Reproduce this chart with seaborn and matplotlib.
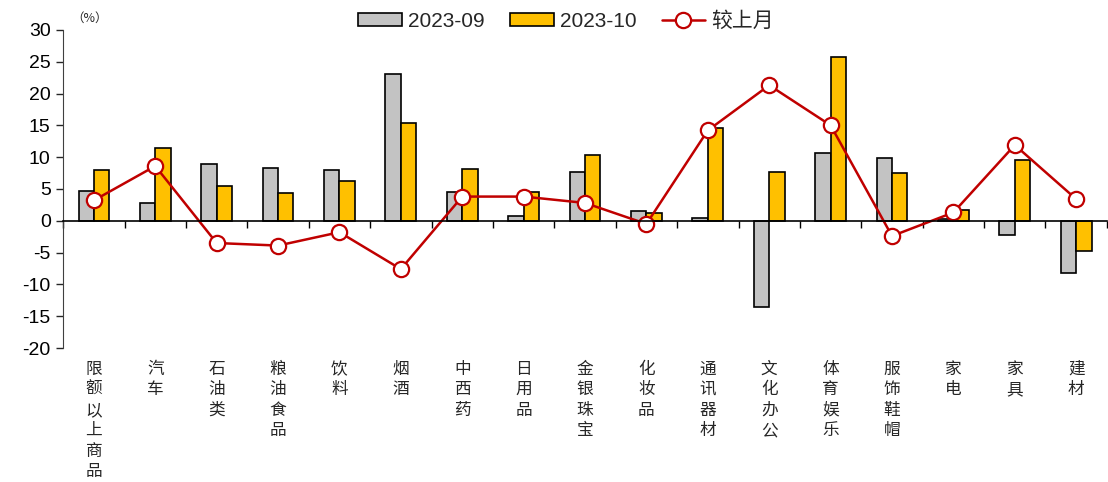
import numpy as np
import pandas as pd
import matplotlib
matplotlib.use('Agg')
import matplotlib.pyplot as plt
import matplotlib.transforms as mtransforms
import seaborn as sns

# 数据
categories = ['限额以上商品', '汽车', '石油类', '粮油食品', '饮料', '烟酒', '中西药', '日用品',
              '金银珠宝', '化妆品', '通讯器材', '文化办公', '体育娱乐', '服饰鞋帽', '家电', '家具', '建材']
sep_values = [4.7, 2.8, 8.9, 8.3, 8.0, 23.1, 4.5, 0.7, 7.7, 1.6, 0.5, -13.6, 10.7, 9.9, 0.3, -2.3, -8.2]
oct_values = [7.9, 11.4, 5.4, 4.4, 6.2, 15.4, 8.2, 4.5, 10.4, 1.2, 14.6, 7.7, 25.7, 7.5, 1.7, 9.6, -4.8]
mom_change = [3.2, 8.6, -3.5, -3.9, -1.8, -7.6, 3.8, 3.8, 2.8, -0.5, 14.2, 21.3, 15.0, -2.4, 1.3, 11.9, 3.4]
y_ticks = [-20, -15, -10, -5, 0, 5, 10, 15, 20, 25, 30]

sns.set_style('white')
plt.rcParams['font.family'] = ['Liberation Sans', 'Noto Sans CJK SC', 'DejaVu Sans']
plt.rcParams['axes.unicode_minus'] = False

df = pd.DataFrame({
    'cat': categories * 2,
    'val': sep_values + oct_values,
    'period': ['2023-09'] * len(categories) + ['2023-10'] * len(categories),
})

fig = plt.figure(figsize=(11.08, 4.82), dpi=100)
ax = fig.add_axes([0.057, 0.278, 0.942, 0.66])

sns.barplot(data=df, x='cat', y='val', hue='period', order=categories,
            palette={'2023-09': '#C3C3C3', '2023-10': '#FFC000'}, saturation=1,
            width=0.5, edgecolor='black', linewidth=1.2, ax=ax)

line_df = pd.DataFrame({'x': np.arange(len(categories)), 'y': mom_change})
sns.lineplot(data=line_df, x='x', y='y', color='#C00000', linewidth=1.8,
             marker='o', markersize=11, markerfacecolor='white',
             markeredgecolor='#C00000', markeredgewidth=1.6, label='较上月', ax=ax)

ax.set_xlim(-0.5, len(categories) - 0.5)
ax.set_ylim(-20, 30)
ax.set_yticks(y_ticks)
ax.tick_params(axis='y', labelsize=14, length=5, width=1, direction='out', left=True, pad=4,
               labelcolor='black')
ax.set_xlabel('')
ax.set_ylabel('')

# x轴放在0处，刻度在类别分界
for s in ['top', 'right']:
    ax.spines[s].set_visible(False)
ax.spines['left'].set_color('#404040')
ax.spines['bottom'].set_position(('data', 0))
ax.spines['bottom'].set_color('black')
ax.spines['bottom'].set_linewidth(1.2)
ax.set_xticks(np.arange(len(categories) + 1) - 0.5)
ax.set_xticklabels([])
ax.tick_params(axis='x', length=5, width=1, direction='out', bottom=True, color='black')

trans = mtransforms.blended_transform_factory(ax.transData, ax.transAxes)
for i, c in enumerate(categories):
    ax.text(i, -0.04, '\n'.join(c), transform=trans, ha='center', va='top',
            fontsize=12, linespacing=1.27, family=['Noto Sans CJK SC'])

fig.text(0.064, 0.962, '（%）', fontsize=9, ha='left', va='center', family=['Noto Sans CJK SC'])

handles, labels = ax.get_legend_handles_labels()
order = [labels.index('2023-09'), labels.index('2023-10'), labels.index('较上月')]
ax.legend([handles[k] for k in order], [labels[k] for k in order],
          loc='center', bbox_to_anchor=(0.482, 1.027), ncol=3, frameon=False,
          fontsize=15, handlelength=2.1, handleheight=0.6, columnspacing=1.2,
          handletextpad=0.3, borderaxespad=0)

fig.savefig('out.png', dpi=100)
